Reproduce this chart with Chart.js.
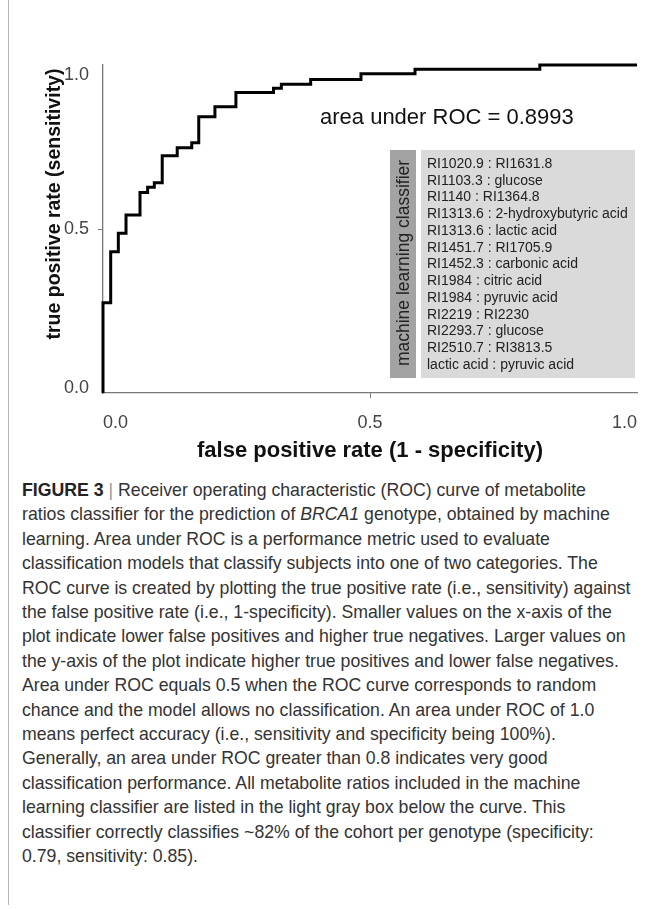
<!DOCTYPE html>
<html>
<head>
<meta charset="utf-8">
<script src="https://cdn.jsdelivr.net/npm/chart.js@4.4.0/dist/chart.umd.min.js"></script>
<style>
body { margin: 0; background: #fff; }
#page { position: relative; width: 654px; height: 909px; }
#edge { position: absolute; left: 8px; top: 0; width: 1px; height: 905px; background: #b5b5b5; }
#wrap { position: absolute; left: 0; top: 0; width: 654px; height: 475px; }
#caption { position: absolute; left: 22px; top: 478px; font: 17.7px "Liberation Sans", Arial, sans-serif; line-height: 24.4px; color: #333; white-space: nowrap; }
#caption b { color: #222; }
#caption .bar { color: #999; }
</style>
</head>
<body>
<div id="page">
  <div id="edge"></div>
  <div id="wrap"><canvas id="roc" width="654" height="475"></canvas></div>
  <div id="caption">
    <b>FIGURE 3</b> <span class="bar">|</span> Receiver operating characteristic (ROC) curve of metabolite<br>
    ratios classifier for the prediction of <i>BRCA1</i> genotype, obtained by machine<br>
    learning. Area under ROC is a performance metric used to evaluate<br>
    classification models that classify subjects into one of two categories. The<br>
    ROC curve is created by plotting the true positive rate (i.e., sensitivity) against<br>
    the false positive rate (i.e., 1-specificity). Smaller values on the x-axis of the<br>
    plot indicate lower false positives and higher true negatives. Larger values on<br>
    the y-axis of the plot indicate higher true positives and lower false negatives.<br>
    Area under ROC equals 0.5 when the ROC curve corresponds to random<br>
    chance and the model allows no classification. An area under ROC of 1.0<br>
    means perfect accuracy (i.e., sensitivity and specificity being 100%).<br>
    Generally, an area under ROC greater than 0.8 indicates very good<br>
    classification performance. All metabolite ratios included in the machine<br>
    learning classifier are listed in the light gray box below the curve. This<br>
    classifier correctly classifies ~82% of the cohort per genotype (specificity:<br>
    0.79, sensitivity: 0.85).
  </div>
</div>
<script>
const FONT = '"Liberation Sans", Arial, sans-serif';

// ROC curve (corner points, horizontal step first)
const fpr = [0, 0, 0.0144, 0.0287, 0.0431, 0.0693, 0.0836, 0.0961, 0.1109, 0.1390, 0.1662, 0.1793, 0.2096, 0.2489, 0.3193, 0.3340, 0.3889, 0.4831, 0.5843, 0.8180, 1.0];
const tpr = [0, 0.275, 0.431, 0.487, 0.543, 0.611, 0.627, 0.641, 0.723, 0.748, 0.763, 0.842, 0.873, 0.916, 0.929, 0.941, 0.956, 0.973, 0.987, 1.0, 1.0];

const tickValues = [0, 0.5, 1];
const xTickLabels = ['0.0', '0.5', '1.0'];
const yTickLabels = ['0.0', '0.5', '1.0'];

const xTitle = 'false positive rate (1 - specificity)';
const yTitle = 'true positive rate (sensitivity)';
const aucLabel = 'area under ROC = 0.8993';
const classifierTitle = 'machine learning classifier';
const classifierRatios = [
  'RI1020.9 : RI1631.8',
  'RI1103.3 : glucose',
  'RI1140 : RI1364.8',
  'RI1313.6 : 2-hydroxybutyric acid',
  'RI1313.6 : lactic acid',
  'RI1451.7 : RI1705.9',
  'RI1452.3 : carbonic acid',
  'RI1984 : citric acid',
  'RI1984 : pyruvic acid',
  'RI2219 : RI2230',
  'RI2293.7 : glucose',
  'RI2510.7 : RI3813.5',
  'lactic acid : pyruvic acid'
];

// y tick labels, y title, AUC text and the classifier box
const notes = {
  id: 'notes',
  afterDraw(chart) {
    const ctx = chart.ctx;
    const ys = chart.scales.y;
    ctx.save();

    ctx.font = '18px ' + FONT;
    ctx.fillStyle = '#444';
    ctx.textAlign = 'right';
    ctx.textBaseline = 'middle';
    ys.ticks.forEach(function (t, i) {
      var y = ys.getPixelForValue(t.value);
      if (i === 0) y -= 5;
      if (i === ys.ticks.length - 1) y += 10;
      ctx.fillText(yTickLabels[i], ys.right - 14, y);
    });

    ctx.save();
    ctx.translate(55, 204);
    ctx.rotate(-Math.PI / 2);
    ctx.font = 'bold 19.5px ' + FONT;
    ctx.fillStyle = '#111';
    ctx.textAlign = 'center';
    ctx.fillText(yTitle, 0, 0);
    ctx.restore();

    ctx.font = '22px ' + FONT;
    ctx.fillStyle = '#111';
    ctx.textAlign = 'left';
    ctx.fillText(aucLabel, 320, 118);

    // classifier box
    ctx.fillStyle = '#a3a3a3';
    ctx.fillRect(390, 150, 26, 228);
    ctx.fillStyle = '#dadada';
    ctx.fillRect(421, 150, 214, 228);

    ctx.save();
    ctx.translate(404, 263);
    ctx.rotate(-Math.PI / 2);
    ctx.font = '17.5px ' + FONT;
    ctx.fillStyle = '#222';
    ctx.textAlign = 'center';
    ctx.fillText(classifierTitle, 0, 0);
    ctx.restore();

    ctx.font = '14px ' + FONT;
    ctx.fillStyle = '#222';
    ctx.textAlign = 'left';
    classifierRatios.forEach(function (txt, i) {
      ctx.fillText(txt, 427, 164 + i * 16.75);
    });

    ctx.restore();
  }
};

new Chart(document.getElementById('roc'), {
  type: 'line',
  data: {
    datasets: [{
      data: fpr.map(function (x, i) { return { x: x, y: tpr[i] }; }),
      stepped: 'before',
      borderColor: '#000',
      borderWidth: 3,
      pointRadius: 0,
      fill: false,
      clip: 8
    }]
  },
  options: {
    responsive: false,
    animation: false,
    layout: { padding: { top: 65, right: 17, bottom: 0, left: 0 } },
    plugins: { legend: { display: false }, tooltip: { enabled: false } },
    scales: {
      x: {
        type: 'linear', min: 0, max: 1,
        afterBuildTicks: function (s) { s.ticks = tickValues.map(function (v) { return { value: v }; }); },
        afterFit: function (s) { s.height = 82; },
        border: { color: '#777', width: 1.3 },
        grid: {
          drawOnChartArea: false, tickLength: 5,
          tickColor: function (c) { return c.index === 1 ? '#777' : 'rgba(0,0,0,0)'; }
        },
        ticks: {
          align: 'inner', padding: 14, color: '#444', maxRotation: 0,
          font: { size: 18, family: FONT },
          callback: function (v, i) { return xTickLabels[i]; }
        },
        title: {
          display: true, text: xTitle, color: '#111',
          font: { size: 22, weight: 'bold', family: FONT },
          padding: { top: 0, bottom: 11 }
        }
      },
      y: {
        type: 'linear', min: 0, max: 1,
        afterBuildTicks: function (s) { s.ticks = tickValues.map(function (v) { return { value: v }; }); },
        afterFit: function (s) { s.width = 103; },
        border: { color: '#777', width: 1.3 },
        grid: {
          drawOnChartArea: false, tickLength: 5,
          tickColor: function (c) { return c.index === 1 ? '#777' : 'rgba(0,0,0,0)'; }
        },
        ticks: { color: 'rgba(0,0,0,0)', font: { size: 18, family: FONT } }
      }
    }
  },
  plugins: [notes]
});
</script>
</body>
</html>
